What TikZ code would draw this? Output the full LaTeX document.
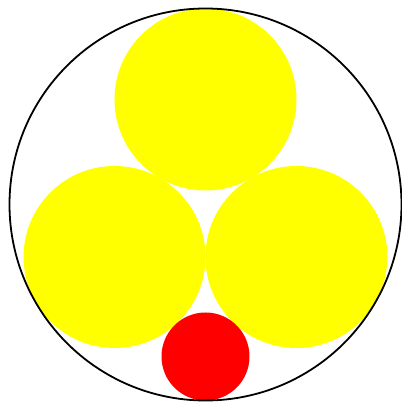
\documentclass[tikz,border=0pt]{standalone}
\definecolor{ballyellow}{RGB}{255,255,0}
\definecolor{ballred}{RGB}{255,0,0}
\begin{document}
\begin{tikzpicture}[
      x=1pt, y=1pt,
      % 大きい円（黄）
      bigball/.style={fill=ballyellow},
      % 小さい円（赤）
      smallball/.style={fill=ballred},
      % 外側の円
      rim/.style={draw=black, line width=1.8pt}
    ]
    \useasboundingbox (0,0) rectangle (402,405);

    % --- 中心 ---
    \coordinate (centre) at (205.5,200.5);

    % --- 黄色の円（3つ） ---
    \foreach \ang in {90,210,330}
      \fill [bigball] (centre) ++(\ang:105) circle (91);

    % --- 赤い円 ---
    \fill [smallball] (centre) ++(270:152) circle (44);

    % --- 外側の円 ---
    \draw [rim] (centre) circle (196);

    \end{tikzpicture}
\end{document}
